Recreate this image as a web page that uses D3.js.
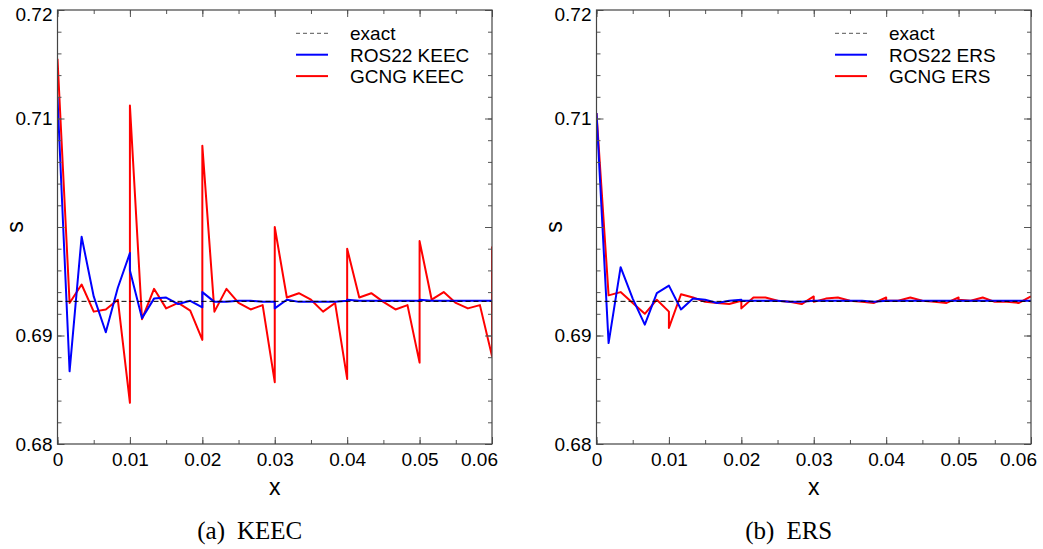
<!DOCTYPE html>
<html>
<head>
<meta charset="utf-8">
<script src="https://cdn.jsdelivr.net/npm/d3@7"></script>
<style>
  body { margin: 0; background: #fff; }
  svg { display: block; }
</style>
</head>
<body>
<svg id="fig" width="1043" height="549"></svg>
<script>
// Solution nodes: six elements of width 0.01, seven nodes each (element ends repeated)
const xNodes = [
  0, 0.00167, 0.00333, 0.005, 0.00667, 0.00833, 0.01,
  0.01, 0.01167, 0.01333, 0.015, 0.01667, 0.01833, 0.02,
  0.02, 0.02167, 0.02333, 0.025, 0.02667, 0.02833, 0.03,
  0.03, 0.03167, 0.03333, 0.035, 0.03667, 0.03833, 0.04,
  0.04, 0.04167, 0.04333, 0.045, 0.04667, 0.04833, 0.05,
  0.05, 0.05167, 0.05333, 0.055, 0.05667, 0.05833, 0.06,
  0.06
];

const exactValue = 0.693147;

const keecRos22 = [
  0.7119, 0.6867, 0.6991, 0.6936, 0.6903, 0.6944, 0.6976,
  0.6960, 0.6916, 0.6934, 0.6935, 0.6929, 0.6932, 0.6926,
  0.6940, 0.6931, 0.6931, 0.6932, 0.6932, 0.6931, 0.6931,
  0.6925, 0.6933, 0.6931, 0.6931, 0.6931, 0.6931, 0.6932,
  0.6933, 0.6932, 0.6932, 0.6932, 0.6932, 0.6932, 0.6932,
  0.6933, 0.6932, 0.6932, 0.6932, 0.6932, 0.6932, 0.6932,
  0.6932
];

const keecGcng = [
  0.7155, 0.6930, 0.6947, 0.6922, 0.6924, 0.6933, 0.6838,
  0.7112, 0.6915, 0.6943, 0.6925, 0.6930, 0.6923, 0.6896,
  0.7075, 0.6922, 0.6943, 0.6930, 0.6924, 0.6928, 0.6857,
  0.7000, 0.6935, 0.6939, 0.6933, 0.6922, 0.6930, 0.6860,
  0.6980, 0.6935, 0.6939, 0.6931, 0.6924, 0.6928, 0.6875,
  0.6987, 0.6933, 0.6940, 0.6930, 0.6925, 0.6928, 0.6881,
  0.6982
];

const ersRos22 = [
  0.7105, 0.6893, 0.6963, 0.6934, 0.6910, 0.6939, 0.6946,
  0.6946, 0.6924, 0.6934, 0.6933, 0.6930, 0.6932, 0.6933,
  0.6932, 0.6932, 0.6932, 0.6932, 0.6931, 0.6931, 0.6932,
  0.6932, 0.6932, 0.6932, 0.6932, 0.6932, 0.6931, 0.6932,
  0.6932, 0.6932, 0.6932, 0.6932, 0.6932, 0.6932, 0.6932,
  0.6932, 0.6932, 0.6932, 0.6932, 0.6932, 0.6932, 0.6932,
  0.6932
];

const ersGcng = [
  0.7105, 0.6937, 0.6940, 0.6930, 0.6920, 0.6933, 0.6922,
  0.6907, 0.6938, 0.6935, 0.6931, 0.6930, 0.6929, 0.6932,
  0.6925, 0.6935, 0.6935, 0.6932, 0.6931, 0.6929, 0.6936,
  0.6931, 0.6934, 0.6935, 0.6932, 0.6931, 0.6930, 0.6935,
  0.6932, 0.6932, 0.6935, 0.6932, 0.6931, 0.6930, 0.6935,
  0.6933, 0.6932, 0.6935, 0.6931, 0.6931, 0.6930, 0.6936,
  0.6936
];

const xTicks = [0, 0.01, 0.02, 0.03, 0.04, 0.05, 0.06];
const xTickLabels = ["0", "0.01", "0.02", "0.03", "0.04", "0.05", "0.06"];
const yTicks = [0.68, 0.69, 0.70, 0.71, 0.72];
const yTickLabels = ["0.68", "0.69", "", "0.71", "0.72"];

const legendKeec = ["exact", "ROS22 KEEC", "GCNG KEEC"];
const legendErs = ["exact", "ROS22 ERS", "GCNG ERS"];

const sans = "'Liberation Sans', Arial, Helvetica, sans-serif";
const serif = "'Liberation Serif', 'Times New Roman', Times, serif";

const W = 434.5, H = 434;
const svg = d3.select("#fig");

function drawPanel(opts) {
  const g = svg.append("g").attr("transform", `translate(${opts.left},10)`);
  const x = d3.scaleLinear().domain([0, 0.06]).range([0, W]);
  const y = d3.scaleLinear().domain([0.68, 0.72]).range([H, 0]);

  const clipId = "clip-" + opts.id;
  g.append("clipPath").attr("id", clipId)
    .append("rect").attr("x", 0).attr("y", 0).attr("width", W).attr("height", H);

  const line = d3.line().x(d => x(d[0])).y(d => y(d[1]));
  const plot = g.append("g").attr("clip-path", `url(#${clipId})`);

  plot.append("path")
    .attr("d", line(d3.zip(xNodes, opts.gcng)))
    .attr("fill", "none").attr("stroke", "#ff0000").attr("stroke-width", 2)
    .attr("stroke-linejoin", "round");
  plot.append("path")
    .attr("d", line(d3.zip(xNodes, opts.ros)))
    .attr("fill", "none").attr("stroke", "#0000ff").attr("stroke-width", 2)
    .attr("stroke-linejoin", "round");
  plot.append("path")
    .attr("d", line([[0, exactValue], [0.06, exactValue]]))
    .attr("fill", "none").attr("stroke", "#000").attr("stroke-width", 1)
    .attr("stroke-dasharray", "5,3");

  // axes: ticks point inward on all four sides
  const styleAxis = sel => {
    sel.select(".domain").remove();
    sel.selectAll(".tick line").attr("stroke", "#555").attr("stroke-width", 1);
    sel.selectAll(".tick text").attr("font-family", sans).attr("font-size", 19).attr("fill", "#000");
  };

  g.append("g").attr("transform", `translate(0,${H})`)
    .call(d3.axisBottom(x).ticks(12).tickSize(-4).tickFormat("")).call(styleAxis);
  const bottom = g.append("g").attr("transform", `translate(0,${H})`)
    .call(d3.axisBottom(x).tickValues(xTicks).tickSize(-7).tickPadding(8.5)
      .tickFormat((d, i) => xTickLabels[i])).call(styleAxis);
  bottom.selectAll(".tick text").filter(d => d === 0.06).attr("dx", -13);

  g.append("g").call(d3.axisTop(x).ticks(12).tickSize(-4).tickFormat("")).call(styleAxis);
  g.append("g").call(d3.axisTop(x).tickValues(xTicks).tickSize(-7).tickFormat("")).call(styleAxis);

  g.append("g").call(d3.axisLeft(y).ticks(20).tickSize(-4).tickFormat("")).call(styleAxis);
  const leftAx = g.append("g").call(d3.axisLeft(y).tickValues(yTicks).tickSize(-7).tickPadding(5)
    .tickFormat((d, i) => yTickLabels[i])).call(styleAxis);
  leftAx.selectAll(".tick text").filter(d => d === 0.72).attr("y", 4.5);

  g.append("g").attr("transform", `translate(${W},0)`)
    .call(d3.axisRight(y).ticks(20).tickSize(-4).tickFormat("")).call(styleAxis);
  g.append("g").attr("transform", `translate(${W},0)`)
    .call(d3.axisRight(y).tickValues(yTicks).tickSize(-7).tickFormat("")).call(styleAxis);

  // frame
  g.append("rect").attr("width", W).attr("height", H)
    .attr("fill", "none").attr("stroke", "#444").attr("stroke-width", 1.2);

  // axis titles
  g.append("text").attr("x", W / 2).attr("y", 485).attr("text-anchor", "middle")
    .attr("font-family", sans).attr("font-size", 23).text("x");
  g.append("text").attr("transform", `translate(-35,217) rotate(-90)`)
    .attr("text-anchor", "middle").attr("font-family", sans).attr("font-size", 23).text("s");

  // legend
  const legend = g.append("g").attr("transform", `translate(${opts.legendX},0)`);
  const styles = [
    { color: "#555", dash: "4,3", width: 1 },
    { color: "#0000ff", dash: null, width: 2 },
    { color: "#ff0000", dash: null, width: 2 }
  ];
  opts.legend.forEach((label, i) => {
    const yy = 23.3 + i * 21.4;
    legend.append("line").attr("x1", 0).attr("x2", 32).attr("y1", yy).attr("y2", yy)
      .attr("stroke", styles[i].color).attr("stroke-width", styles[i].width)
      .attr("stroke-dasharray", styles[i].dash);
    legend.append("text").attr("x", 54).attr("y", yy + 7)
      .attr("font-family", sans).attr("font-size", 19).text(label);
  });

  // caption
  const cap = g.append("text").attr("x", W / 2 - 25).attr("y", 529).attr("text-anchor", "middle")
    .attr("font-family", serif).attr("font-size", 25);
  cap.append("tspan").text(opts.tag);
  cap.append("tspan").attr("dx", 12).text(opts.caption);
}

drawPanel({ id: "keec", left: 57.5, ros: keecRos22, gcng: keecGcng,
  legend: legendKeec, legendX: 238.5, tag: "(a)", caption: "KEEC" });
drawPanel({ id: "ers", left: 596.5, ros: ersRos22, gcng: ersGcng,
  legend: legendErs, legendX: 238.5, tag: "(b)", caption: "ERS" });
</script>
</body>
</html>
